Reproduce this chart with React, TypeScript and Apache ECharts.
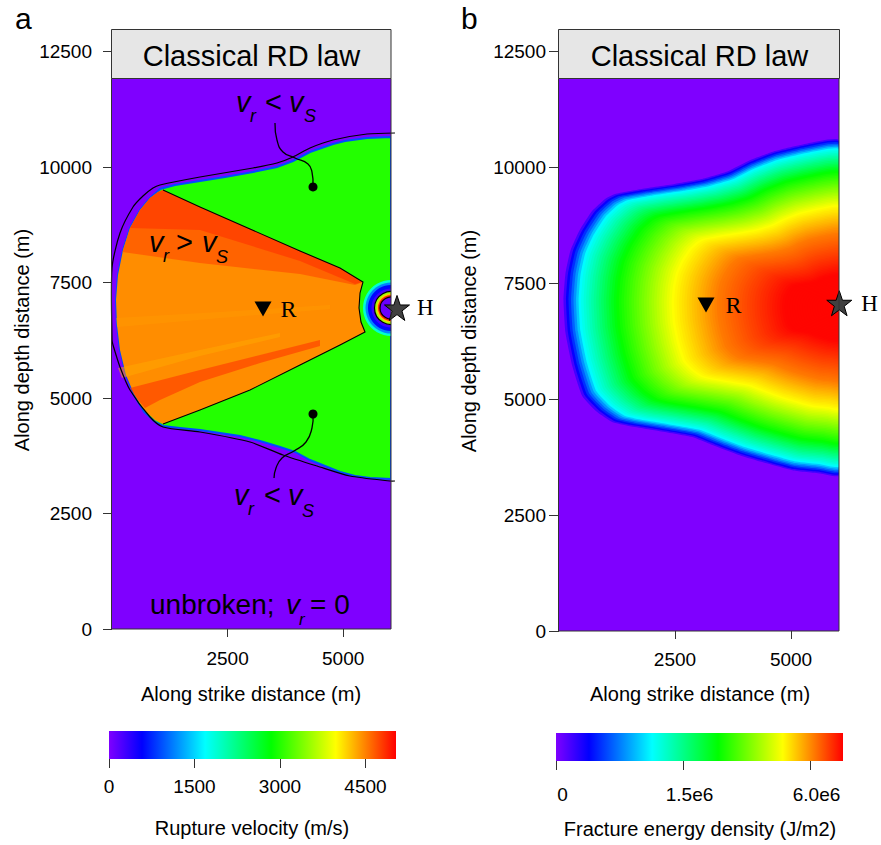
import { useEffect, useRef } from "react";
import * as echarts from "echarts";

const FONT = "'Liberation Sans', Arial, Helvetica, sans-serif";
const SERIF = "'Liberation Serif', 'Times New Roman', serif";

// ---------- shared colour ramp (fraction of colour bar -> colour) ----------
const rampPos = [0, 0.115, 0.335, 0.565, 0.79, 1];
const rampCol = ["#7F00FF", "#0000FF", "#00FFFF", "#00FF00", "#FFFF00", "#FF0000"];

// ---------- axes ----------
const xMax = 6034;
const yMax = 12500;
const xTicks = [2500, 5000];

// ---------- panel a : rupture velocity (m/s) ----------
const velocityMax = 5035;
const velocityTicks = [0, 1500, 3000, 4500];

// outer edge of the ruptured area (sub-shear, green)
const frontX = [6034, 5515, 5039, 4780, 4282, 3914, 3568, 3049, 2444, 1903, 1363, 1038, 995, 822, 606, 389, 238, 130, 87, 108, 173, 303, 476, 692, 930, 1103, 1471, 1903, 2336, 2768, 3201, 3633, 3958, 4282, 4607, 4931, 5255, 5580, 6034];
const frontY = [10653, 10632, 10567, 10502, 10328, 10134, 10004, 9895, 9787, 9701, 9614, 9527, 9484, 9332, 9073, 8683, 8206, 7665, 7124, 6583, 6041, 5500, 5067, 4699, 4482, 4396, 4352, 4309, 4244, 4179, 4071, 3941, 3833, 3659, 3529, 3400, 3313, 3270, 3248];
const vSubShear = 3000;

// supershear wedge
const superX = [1103, 1903, 2985, 4066, 4931, 5428, 5364, 5342, 5385, 5472, 4931, 4066, 2985, 1903, 1103, 930, 692, 476, 303, 173, 108, 87, 130, 238, 389, 606, 822, 995];
const superY = [9506, 9138, 8661, 8185, 7817, 7514, 7275, 6951, 6647, 6431, 6149, 5716, 5175, 4742, 4439, 4525, 4742, 5088, 5500, 6041, 6583, 7124, 7665, 8206, 8683, 9073, 9332, 9462];
const vSuperShear = 4450;

// streaks inside the supershear wedge
const upperBandX = [1103, 1903, 2985, 4066, 4931, 5428, 5255, 4066, 1903, 225, 389, 606, 822, 995];
const upperBandY = [9506, 9138, 8661, 8185, 7817, 7514, 7449, 7687, 7925, 8163, 8683, 9073, 9332, 9462];
const vUpperBand = 4680;
const topBandX = [1103, 1903, 2985, 4066, 4931, 5428, 5255, 4066, 1903, 389, 606, 822, 995];
const topBandY = [9506, 9138, 8661, 8185, 7817, 7514, 7470, 7968, 8640, 8683, 9073, 9332, 9462];
const vTopBand = 4850;
const lowerStreakX = [389, 1903, 3201, 4498, 4498, 3201, 1903, 1038, 714, 562];
const lowerStreakY = [5218, 5608, 5933, 6258, 6128, 5760, 5348, 4959, 4785, 4959];
const vLowerStreak = 4780;
const paleStreakX = [130, 1903, 3633, 3633, 1903, 216];
const paleStreakY = [5651, 6041, 6409, 6323, 5911, 5435];
const vPaleStreak = 4330;
const midStreakX = [87, 2336, 4715, 4715, 2336, 108];
const midStreakY = [6734, 6864, 7016, 6929, 6734, 6539];
const vMidStreak = 4380;

// rings around the hypocentre
const hypoRingCentre = [6034, 6950];
const ringRadius = [606, 552, 498, 422, 357, 314, 281, 238];
const ringVelocity = [1900, 1150, 600, 300, 3560, 4200, 4900, 100];
const ringContourRadius = [357, 238];

// black contour lines
const outerContourX = [6120, 5515, 4780, 4282, 3914, 3568, 3049, 1903, 1038, 887, 670, 454, 173, 0, 0, 22, 173, 389, 822, 1103, 1903, 2985, 3698, 4434, 5147, 6012, 6120];
const outerContourY = [10740, 10718, 10588, 10415, 10220, 10090, 9982, 9787, 9614, 9549, 9376, 9138, 8575, 7817, 6258, 6149, 5673, 5175, 4590, 4374, 4266, 4049, 3768, 3529, 3313, 3205, 3205];

// leaders for the labels
const leaderTopX = [3525, 3568, 3698, 3958, 4239, 4325, 4347];
const leaderTopY = [10956, 10588, 10329, 10199, 10069, 9895, 9571];
const leaderBotX = [4347, 4325, 4196, 3936, 3677, 3547, 3504];
const leaderBotY = [4655, 4352, 4049, 3854, 3703, 3486, 3270];
const samplePoints = [[4347, 9571], [4347, 4655]];

const receiverA = [3266, 6929];
const hypocentreA = [6164, 6951];

// ---------- panel b : fracture energy density (J/m2) ----------
const energyMax = 7.66e6;
const energyTicks = [0, 1.5e6, 6.0e6];
const energyTickLabels = ["0", "1.5e6", "6.0e6"];

const energyEdgeX = [6034, 5344, 4612, 4051, 3620, 3039, 2457, 1746, 1164, 948, 668, 388, 194, 86, 43, 86, 237, 453, 776, 1099, 1465, 2112, 2823, 3319, 3901, 4482, 5043, 5625, 6034];
const energyEdgeY = [10617, 10552, 10380, 10164, 9948, 9776, 9668, 9560, 9452, 9344, 9085, 8654, 8222, 7726, 7143, 6431, 5697, 5050, 4704, 4489, 4402, 4294, 4165, 3971, 3755, 3582, 3431, 3366, 3323];
const energyCentre = [6034, 6975];
// contour read-off: relative distance to the centre (1 = edge) and energy there
const contourScale = [1.0, 0.98, 0.935, 0.8, 0.6, 0.44, 0.2, 0];
const energyLevels = [0, 1.1e5, 8.9e5, 2.5e6, 4.8e6, 6.2e6, 7.6e6, 7.6e6];

const receiverB = [3168, 7035];
const hypocentreB = [6040, 7072];

// ---------- helpers ----------
function hexRgb(h: string) {
  const n = parseInt(h.slice(1), 16);
  return [(n >> 16) & 255, (n >> 8) & 255, n & 255];
}
function ramp(t: number) {
  t = Math.max(0, Math.min(1, t));
  let i = 0;
  while (i < rampPos.length - 2 && t > rampPos[i + 1]) i++;
  const f = (t - rampPos[i]) / (rampPos[i + 1] - rampPos[i]);
  const a = hexRgb(rampCol[i]);
  const b = hexRgb(rampCol[i + 1]);
  const c = a.map((v, k) => Math.round(v + (b[k] - v) * f));
  return `rgb(${c[0]},${c[1]},${c[2]})`;
}
const vColor = (v: number) => ramp(v / velocityMax);
const sqrtMax = Math.sqrt(energyMax);
const eColor = (g: number) => ramp(Math.sqrt(g) / sqrtMax);
function energyAtScale(s: number) {
  for (let j = 0; j < contourScale.length - 1; j++) {
    if (s <= contourScale[j] && s >= contourScale[j + 1]) {
      const f = (contourScale[j] - s) / (contourScale[j] - contourScale[j + 1]);
      const r = Math.sqrt(energyLevels[j]) + f * (Math.sqrt(energyLevels[j + 1]) - Math.sqrt(energyLevels[j]));
      return r * r;
    }
  }
  return energyLevels[energyLevels.length - 1];
}
const rampStops = rampPos.map((p, i) => ({ offset: p, color: rampCol[i] }));

type Region = { xs: number[]; ys: number[]; v: number; edge?: string; opacity?: number };
const regionsA: Region[] = [
  { xs: frontX, ys: frontY, v: vSubShear, edge: vColor(900) },
  { xs: superX, ys: superY, v: vSuperShear },
  { xs: upperBandX, ys: upperBandY, v: vUpperBand, opacity: 0.75 },
  { xs: topBandX, ys: topBandY, v: vTopBand, opacity: 0.55 },
  { xs: midStreakX, ys: midStreakY, v: vMidStreak, opacity: 0.4 },
  { xs: paleStreakX, ys: paleStreakY, v: vPaleStreak, opacity: 0.5 },
  { xs: lowerStreakX, ys: lowerStreakY, v: vLowerStreak, opacity: 0.65 },
];

const bandCount = 110;

const tickLine = { color: "#333", width: 1 };
const labelBase = { fontFamily: FONT, fontSize: 19, color: "#000" };
const plain = (v: number) => String(v);

function mainX(gi: number, margin: number) {
  return {
    type: "value", gridIndex: gi, min: 0, max: xMax,
    axisLine: { show: false }, splitLine: { show: false },
    axisTick: { show: true, length: 8, customValues: xTicks, lineStyle: tickLine },
    axisLabel: { ...labelBase, customValues: xTicks, margin, formatter: plain },
  };
}
function mainY(gi: number, margin: number, len: number) {
  return {
    type: "value", gridIndex: gi, min: 0, max: yMax, interval: 2500,
    axisLine: { show: false }, splitLine: { show: false },
    axisTick: { show: true, length: len, lineStyle: tickLine },
    axisLabel: { ...labelBase, margin, formatter: plain },
  };
}

function text(t: string, x: number, y: number, size: number, extra: any = {}) {
  return {
    type: "text", x, y, z: 100,
    style: { text: t, fontFamily: FONT, fontSize: size, fill: "#000", align: "left", verticalAlign: "middle", ...extra },
  };
}
const it = { fontStyle: "italic" };

function buildOption(): any {
  const starPath = "path://M12,0 L14.9,8.1 L23.4,8.1 L16.5,13.2 L19.1,21.3 L12,16.3 L4.9,21.3 L7.5,13.2 L0.6,8.1 L9.1,8.1 Z";
  const polyPts = (api: any, xs: number[], ys: number[]) => xs.map((x, j) => api.coord([x, ys[j]]));
  const solid = (c: string) => ({ color: c, opacity: 1 });
  const starStyle = { color: "#404040", borderColor: "#000", borderWidth: 1, opacity: 1 };

  return {
    animation: false,
    backgroundColor: "#fff",
    grid: [
      { left: 112, right: 490, top: 51.7, bottom: 216, show: true, backgroundColor: vColor(0), borderWidth: 0 },
      { left: 559, right: 42, top: 51.7, bottom: 214, show: true, backgroundColor: eColor(0), borderWidth: 0 },
      { left: 109, top: 731, width: 287, height: 28 },
      { left: 556, top: 733, width: 287, height: 28 },
    ],
    xAxis: [
      mainX(0, 20),
      mainX(1, 19),
      {
        type: "value", gridIndex: 2, min: 0, max: velocityMax,
        axisLine: { show: false }, splitLine: { show: false },
        axisTick: { show: true, length: 9, customValues: velocityTicks, lineStyle: tickLine },
        axisLabel: { ...labelBase, customValues: velocityTicks, margin: 18, formatter: plain },
      },
      {
        type: "value", gridIndex: 3, min: 0, max: sqrtMax,
        axisLine: { show: false }, splitLine: { show: false },
        axisTick: { show: true, length: 9, customValues: energyTicks.map(Math.sqrt), lineStyle: tickLine },
        axisLabel: {
          ...labelBase, customValues: energyTicks.map(Math.sqrt), margin: 24, padding: [0, 0, 0, 13],
          formatter: (v: number) => {
            const i = energyTicks.findIndex((e) => Math.abs(Math.sqrt(e) - v) < 1);
            return i >= 0 ? energyTickLabels[i] : "";
          },
        },
      },
    ],
    yAxis: [
      mainY(0, 20, 9),
      mainY(1, 13, 10),
      { type: "value", gridIndex: 2, min: 0, max: 1, show: false },
      { type: "value", gridIndex: 3, min: 0, max: 1, show: false },
    ],
    series: [
      // panel a velocity field
      {
        type: "custom", xAxisIndex: 0, yAxisIndex: 0, clip: true,
        data: regionsA.map((_, i) => [i, 0]),
        renderItem: (params: any, api: any) => {
          const r = regionsA[params.dataIndex];
          return {
            type: "polygon",
            shape: { points: polyPts(api, r.xs, r.ys) },
            style: { fill: vColor(r.v), stroke: r.edge || "none", lineWidth: r.edge ? 2 : 0, opacity: r.opacity ?? 1 },
          };
        },
      },
      // rings around the hypocentre + their contours
      {
        type: "custom", xAxisIndex: 0, yAxisIndex: 0, clip: true,
        data: [...ringRadius, ...ringContourRadius].map((_, i) => [i, 0]),
        renderItem: (params: any, api: any) => {
          const i = params.dataIndex;
          const c = api.coord(hypoRingCentre);
          if (i < ringRadius.length) {
            const sz = api.size([ringRadius[i], ringRadius[i]]);
            return { type: "circle", shape: { cx: c[0], cy: c[1], r: (sz[0] + sz[1]) / 2 }, style: { fill: vColor(ringVelocity[i]) } };
          }
          const rr = ringContourRadius[i - ringRadius.length];
          const sz = api.size([rr, rr]);
          return { type: "circle", shape: { cx: c[0], cy: c[1], r: (sz[0] + sz[1]) / 2 }, style: { fill: "none", stroke: "#000", lineWidth: 1.2 } };
        },
      },
      // contour lines
      {
        type: "custom", xAxisIndex: 0, yAxisIndex: 0, clip: false,
        data: [[0, 0], [1, 0]],
        renderItem: (params: any, api: any) => {
          if (params.dataIndex === 0) {
            return { type: "polyline", shape: { points: polyPts(api, outerContourX, outerContourY), smooth: 0.25 }, style: { fill: "none", stroke: "#000", lineWidth: 1.2 } };
          }
          return { type: "polyline", shape: { points: polyPts(api, superX.slice(0, 15), superY.slice(0, 15)) }, style: { fill: "none", stroke: "#000", lineWidth: 1.1 } };
        },
      },
      // leaders
      {
        type: "custom", xAxisIndex: 0, yAxisIndex: 0, clip: false,
        data: [[0, 0], [1, 0]],
        renderItem: (params: any, api: any) => {
          const xs = params.dataIndex === 0 ? leaderTopX : leaderBotX;
          const ys = params.dataIndex === 0 ? leaderTopY : leaderBotY;
          return { type: "polyline", shape: { points: polyPts(api, xs, ys), smooth: 0.5 }, style: { fill: "none", stroke: "#000", lineWidth: 1.3 } };
        },
      },
      {
        type: "scatter", xAxisIndex: 0, yAxisIndex: 0, clip: false,
        data: samplePoints, symbol: "circle", symbolSize: 9, itemStyle: solid("#000"),
      },
      {
        type: "scatter", xAxisIndex: 0, yAxisIndex: 0, clip: false,
        data: [receiverA], symbol: "triangle", symbolSize: [17, 15], symbolRotate: 180, itemStyle: solid("#000"),
        label: { show: true, position: "right", distance: 9, formatter: "R", fontFamily: SERIF, fontSize: 24, color: "#000" },
      },
      {
        type: "scatter", xAxisIndex: 0, yAxisIndex: 0, clip: false,
        data: [hypocentreA], symbol: starPath, symbolSize: 25, itemStyle: starStyle,
        label: { show: true, position: "right", distance: 7, formatter: "H", fontFamily: SERIF, fontSize: 23, color: "#000" },
      },
      // panel b energy field
      {
        type: "custom", xAxisIndex: 1, yAxisIndex: 1, clip: true,
        data: Array.from({ length: bandCount }, (_, k) => [k, 0]),
        renderItem: (params: any, api: any) => {
          const s = 1 - (params.dataIndex / bandCount) * 0.995;
          const pts = energyEdgeX.map((x, j) =>
            api.coord([energyCentre[0] + s * (x - energyCentre[0]), energyCentre[1] + s * (energyEdgeY[j] - energyCentre[1])])
          );
          return { type: "polygon", shape: { points: pts, smooth: 0.15 }, style: { fill: eColor(energyAtScale(s)) } };
        },
      },
      {
        type: "scatter", xAxisIndex: 1, yAxisIndex: 1, clip: false,
        data: [receiverB], symbol: "triangle", symbolSize: [17, 15], symbolRotate: 180, itemStyle: solid("#000"),
        label: { show: true, position: "right", distance: 11, formatter: "R", fontFamily: SERIF, fontSize: 24, color: "#000" },
      },
      {
        type: "scatter", xAxisIndex: 1, yAxisIndex: 1, clip: false,
        data: [hypocentreB], symbol: starPath, symbolSize: 25, itemStyle: starStyle,
        label: { show: true, position: "right", distance: 9, formatter: "H", fontFamily: SERIF, fontSize: 23, color: "#000" },
      },
      // colour bars
      {
        type: "custom", xAxisIndex: 2, yAxisIndex: 2, clip: false, data: [[0, 0]],
        renderItem: (_p: any, api: any) => {
          const a = api.coord([0, 1]);
          const b = api.coord([velocityMax, 0]);
          return { type: "rect", shape: { x: a[0], y: a[1], width: b[0] - a[0], height: b[1] - a[1] }, style: { fill: new echarts.graphic.LinearGradient(0, 0, 1, 0, rampStops) } };
        },
      },
      {
        type: "custom", xAxisIndex: 3, yAxisIndex: 3, clip: false, data: [[0, 0]],
        renderItem: (_p: any, api: any) => {
          const a = api.coord([0, 1]);
          const b = api.coord([sqrtMax, 0]);
          return { type: "rect", shape: { x: a[0], y: a[1], width: b[0] - a[0], height: b[1] - a[1] }, style: { fill: new echarts.graphic.LinearGradient(0, 0, 1, 0, rampStops) } };
        },
      },
    ],
    graphic: [
      // frames and strips
      { type: "rect", z: 100, shape: { x: 111.5, y: 78.5, width: 279.5, height: 550.5 }, style: { fill: "none", stroke: "#333", lineWidth: 1 } },
      { type: "rect", z: 100, shape: { x: 111.5, y: 29.5, width: 279.5, height: 49 }, style: { fill: "#E6E6E6", stroke: "#333", lineWidth: 1 } },
      { type: "rect", z: 100, shape: { x: 558.5, y: 78.5, width: 280.5, height: 552.5 }, style: { fill: "none", stroke: "#333", lineWidth: 1 } },
      { type: "rect", z: 100, shape: { x: 558.5, y: 29.5, width: 281, height: 49 }, style: { fill: "#E6E6E6", stroke: "#333", lineWidth: 1 } },
      text("Classical RD law", 251.5, 56, 29, { align: "center" }),
      text("Classical RD law", 699.5, 56, 29, { align: "center" }),
      text("a", 15, 18, 30),
      text("b", 461, 18, 30),
      // axis titles
      text("Along strike distance (m)", 251, 694, 20, { align: "center" }),
      text("Along strike distance (m)", 700, 694, 20, { align: "center" }),
      { ...text("Along depth distance (m)", 22, 340, 20, { align: "center" }), rotation: Math.PI / 2 },
      { ...text("Along depth distance (m)", 469, 341, 20, { align: "center" }), rotation: Math.PI / 2 },
      text("Rupture velocity (m/s)", 252, 828, 20, { align: "center" }),
      text("Fracture energy density (J/m2)", 700, 829, 20, { align: "center" }),
      // annotations panel a
      text("v", 236, 102, 29, it), text("r", 250, 116, 18, it), text("<", 265, 102, 29), text("v", 289, 102, 29, it), text("S", 304, 116, 18, it),
      text("v", 149, 242, 29, it), text("r", 163, 256, 18, it), text(">", 176, 242, 29), text("v", 202, 242, 29, it), text("S", 216, 257, 18, it),
      text("v", 234, 495, 29, it), text("r", 248, 509, 18, it), text("<", 264, 495, 29), text("v", 288, 495, 29, it), text("S", 302, 511, 18, it),
      text("unbroken;", 150, 604, 28), text("v", 286, 604, 28, it), text("r", 299, 619, 17, it), text("= 0", 310, 604, 28),
    ],
  };
}

export default function App() {
  const ref = useRef<HTMLDivElement>(null);
  useEffect(() => {
    if (!ref.current) return;
    const chart = echarts.init(ref.current, undefined, { renderer: "svg" });
    chart.setOption(buildOption());
    return () => chart.dispose();
  }, []);
  return <div ref={ref} style={{ width: 881, height: 845, position: "absolute", left: 0, top: 0 }} />;
}
